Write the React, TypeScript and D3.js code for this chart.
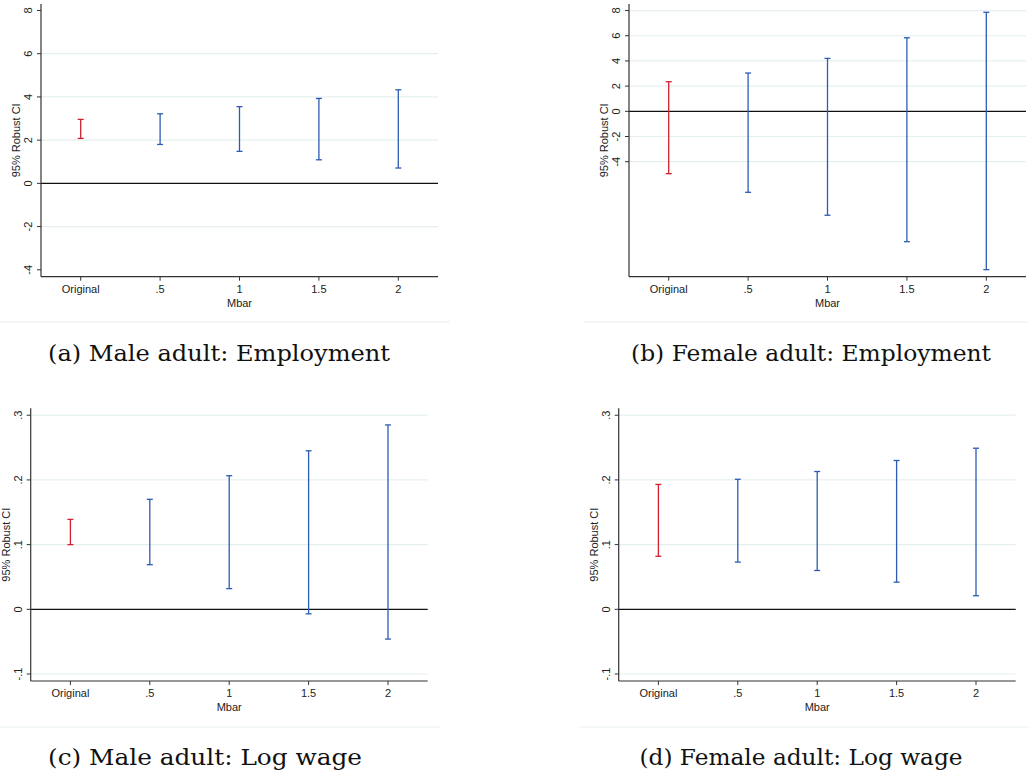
import React, { useEffect, useRef } from 'react';
import * as d3 from 'd3';

// categories on the x axis (Mbar)
const categories = ['Original', '.5', '1', '1.5', '2'];

// 95% robust CI bounds
const maleEmpLow = [2.08, 1.80, 1.48, 1.09, 0.71];
const maleEmpHigh = [2.96, 3.22, 3.55, 3.93, 4.33];
const femaleEmpLow = [-4.95, -6.43, -8.25, -10.35, -12.57];
const femaleEmpHigh = [2.35, 3.04, 4.2, 5.84, 7.86];
const maleWageLow = [0.100, 0.069, 0.032, -0.007, -0.046];
const maleWageHigh = [0.139, 0.170, 0.2065, 0.245, 0.285];
const femaleWageLow = [0.082, 0.073, 0.060, 0.042, 0.021];
const femaleWageHigh = [0.193, 0.201, 0.213, 0.230, 0.249];

// tick labels
const empTicks = [-4, -2, 0, 2, 4, 6, 8];
const empTickLabels = ['-4', '-2', '0', '2', '4', '6', '8'];
const wageTicks = [-0.1, 0, 0.1, 0.2, 0.3];
const wageTickLabels = ['-.1', '0', '.1', '.2', '.3'];

const captions = [
  '(a) Male adult: Employment',
  '(b) Female adult: Employment',
  '(c) Male adult: Log wage',
  '(d) Female adult: Log wage',
];

const RED = '#d0212f';
const BLUE = '#2b5cb5';
const GRID = '#e6eff0';

const panels = [
  {
    low: maleEmpLow, high: maleEmpHigh, ticks: empTicks, labels: empTickLabels,
    grid: [-2, 2, 4, 6], yDomain: [-4.32, 8.3],
    x0: 41, x1: 438, y0: 4, y1: 276.7,
    sep: [0, 450, 322], caption: captions[0], capX: 219, capY: 361, capW: 342,
  },
  {
    low: femaleEmpLow, high: femaleEmpHigh, ticks: empTicks, labels: empTickLabels,
    grid: [-4, -2, 2, 4, 6, 8], yDomain: [-13.13, 8.52],
    x0: 629, x1: 1026, y0: 4, y1: 276.7,
    sep: [584, 1028, 322], caption: captions[1], capX: 811, capY: 361, capW: 360,
  },
  {
    low: maleWageLow, high: maleWageHigh, ticks: wageTicks, labels: wageTickLabels,
    grid: [-0.1, 0.1, 0.2, 0.3], yDomain: [-0.1108, 0.3107],
    x0: 30.7, x1: 427.7, y0: 408.3, y1: 681,
    sep: [0, 440, 727], caption: captions[2], capX: 205, capY: 765, capW: 314,
  },
  {
    low: femaleWageLow, high: femaleWageHigh, ticks: wageTicks, labels: wageTickLabels,
    grid: [-0.1, 0.1, 0.2, 0.3], yDomain: [-0.1108, 0.3107],
    x0: 618.7, x1: 1015.7, y0: 408.3, y1: 681,
    sep: [580, 1028, 727], caption: captions[3], capX: 801, capY: 765, capW: 323,
  },
];

const App = () => {
  const svgRef = useRef(null);

  useEffect(() => {
    const svg = d3.select(svgRef.current);
    svg.selectAll('*').remove();

    panels.forEach((p) => {
      const x = d3.scaleLinear().domain([-0.5, categories.length - 0.5]).range([p.x0, p.x1]);
      const y = d3.scaleLinear().domain(p.yDomain).range([p.y1, p.y0]);
      const g = svg.append('g').style('font-family', '"Liberation Sans", Arial, sans-serif');

      // gridlines
      g.selectAll('.grid')
        .data(p.grid)
        .enter()
        .append('line')
        .attr('x1', p.x0).attr('x2', p.x1)
        .attr('y1', d => y(d)).attr('y2', d => y(d))
        .attr('stroke', GRID).attr('stroke-width', 1.2);

      // zero line
      g.append('line')
        .attr('x1', p.x0).attr('x2', p.x1)
        .attr('y1', y(0)).attr('y2', y(0))
        .attr('stroke', '#111').attr('stroke-width', 1.3);

      // axes
      g.append('line')
        .attr('x1', p.x0).attr('x2', p.x0)
        .attr('y1', p.y0).attr('y2', p.y1)
        .attr('stroke', '#333').attr('stroke-width', 1.2);
      g.append('line')
        .attr('x1', p.x0).attr('x2', p.x1)
        .attr('y1', p.y1).attr('y2', p.y1)
        .attr('stroke', '#333').attr('stroke-width', 1.2);

      // y ticks + labels
      g.selectAll('.ytick')
        .data(p.ticks)
        .enter()
        .append('line')
        .attr('x1', p.x0 - 4).attr('x2', p.x0)
        .attr('y1', d => y(d)).attr('y2', d => y(d))
        .attr('stroke', '#333').attr('stroke-width', 1);
      g.selectAll('.ylab')
        .data(p.ticks)
        .enter()
        .append('text')
        .attr('transform', d => `translate(${p.x0 - 9},${y(d)}) rotate(-90)`)
        .attr('text-anchor', 'middle')
        .attr('font-size', 11)
        .attr('fill', '#222')
        .text((d, i) => p.labels[i]);

      // x ticks + labels
      g.selectAll('.xtick')
        .data(categories)
        .enter()
        .append('line')
        .attr('x1', (d, i) => x(i)).attr('x2', (d, i) => x(i))
        .attr('y1', p.y1).attr('y2', p.y1 + 4)
        .attr('stroke', '#333').attr('stroke-width', 1);
      g.selectAll('.xlab')
        .data(categories)
        .enter()
        .append('text')
        .attr('x', (d, i) => x(i))
        .attr('y', p.y1 + 16)
        .attr('text-anchor', 'middle')
        .attr('font-size', 11)
        .attr('fill', '#222')
        .text(d => d);

      // axis titles
      g.append('text')
        .attr('x', (p.x0 + p.x1) / 2)
        .attr('y', p.y1 + 30)
        .attr('text-anchor', 'middle')
        .attr('font-size', 11)
        .attr('fill', '#222')
        .text('Mbar');
      g.append('text')
        .attr('transform', `translate(${p.x0 - 21},${(p.y0 + p.y1) / 2}) rotate(-90)`)
        .attr('text-anchor', 'middle')
        .attr('font-size', 11)
        .attr('fill', '#222')
        .text('95% Robust CI');

      // CI bars with caps
      const bars = g.selectAll('.ci')
        .data(categories.map((c, i) => ({ i, lo: p.low[i], hi: p.high[i] })))
        .enter()
        .append('g')
        .attr('stroke', d => (d.i === 0 ? RED : BLUE))
        .attr('stroke-width', 1.3);
      bars.append('line')
        .attr('x1', d => x(d.i)).attr('x2', d => x(d.i))
        .attr('y1', d => y(d.lo)).attr('y2', d => y(d.hi));
      bars.append('line')
        .attr('x1', d => x(d.i) - 3).attr('x2', d => x(d.i) + 3)
        .attr('y1', d => y(d.lo)).attr('y2', d => y(d.lo));
      bars.append('line')
        .attr('x1', d => x(d.i) - 3).attr('x2', d => x(d.i) + 3)
        .attr('y1', d => y(d.hi)).attr('y2', d => y(d.hi));

      // bottom edge of the graph image
      svg.append('line')
        .attr('x1', p.sep[0]).attr('x2', p.sep[1])
        .attr('y1', p.sep[2]).attr('y2', p.sep[2])
        .attr('stroke', '#e8eff0').attr('stroke-width', 1.2);

      // caption
      svg.append('text')
        .attr('x', p.capX)
        .attr('y', p.capY)
        .attr('text-anchor', 'middle')
        .attr('font-family', '"DejaVu Serif", serif')
        .attr('font-size', 22.5)
        .attr('textLength', p.capW)
        .attr('lengthAdjust', 'spacingAndGlyphs')
        .attr('fill', '#111')
        .text(p.caption);
    });
  }, []);

  return (
    <svg
      ref={svgRef}
      width={1028}
      height={773}
      style={{ position: 'absolute', left: 0, top: 0, background: '#fff' }}
    />
  );
};

export default App;
